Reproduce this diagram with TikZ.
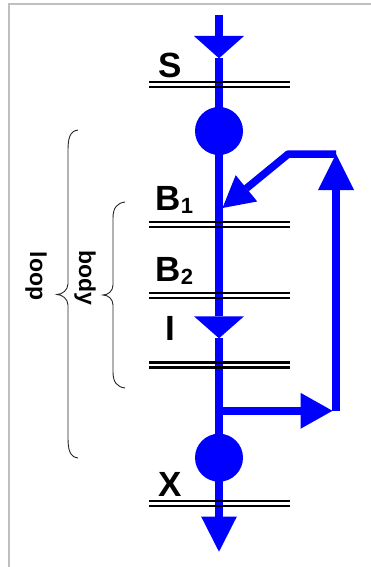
\documentclass[tikz,border=0pt]{standalone}
\usepackage{fontspec}
\setmainfont{Liberation Sans}
\usetikzlibrary{arrows.meta}
\begin{document}
\begin{tikzpicture}[x=1pt,y=-1pt,
  flow/.style={draw=blue, line width=7.5pt},
  rail/.style={draw=black, line width=2.5pt},
  junction/.style={circle, fill=blue, minimum size=48pt, inner sep=0pt},
  lbl/.style={font=\bfseries\fontsize{35}{35}\selectfont, inner sep=0pt, anchor=base west},
  side/.style={font=\bfseries\fontsize{23}{23}\selectfont, inner sep=0pt, rotate=-90},
  brace/.style={draw=black!85, line width=0.9pt},
  frame/.style={draw=black!25, line width=2pt}]
\useasboundingbox (0,0) rectangle (371,567);
\draw[frame] (9.3,567) -- (9.3,3.7) -- (371,3.7);
% named points
\coordinate (top) at (219,15);
\coordinate (m1) at (219,58.3);
\node[junction] (c1) at (219,131) {};
\coordinate (m2) at (219,338.3);
\coordinate (j) at (219,410.8);
\node[junction] (c2) at (219,457.7) {};
\coordinate (bot) at (219,551.7);
\coordinate (rtip) at (332.5,410.8);
\coordinate (rb) at (336,410.8);
\coordinate (rt) at (336,154);
\coordinate (ht) at (288.3,154);
\coordinate (b1in) at (222.5,208);
% main flow
\draw[flow,-{Triangle[width=50pt,length=22.3pt,line width=0pt]}] (top) -- (m1);
\draw[flow] (m1) -- (c1.center);
\draw[flow,-{Triangle[width=50pt,length=22pt,line width=0pt]}] (c1.center) -- (m2);
\draw[flow] (m2) -- (c2.center);
\draw[flow,-{Triangle[width=35.6pt,length=35pt,line width=0pt]}] (c2.center) -- (bot);
% feedback
\draw[flow,-{Triangle[width=36pt,length=32pt,line width=0pt]}] (j) -- (rtip);
\draw[flow,-{Triangle[width=36pt,length=36pt,line width=0pt]}] (rb) -- (rt);
\draw[flow,line join=bevel,-{Triangle[width=34pt,length=31pt,line width=0pt]}] (rt) -- (ht) -- (b1in);
% rails
\foreach \y in {84.7,224.5,295.3,365.2,503.7} {
  \draw[rail] (149,\y-2.5) -- (290,\y-2.5);
  \draw[rail] (149,\y+2.5) -- (290,\y+2.5);
}
% labels
\node[lbl] (S) at (158,78) {S};
\node[lbl] (B1) at (155.5,210.5) {B\raisebox{-3pt}{\fontsize{22}{22}\selectfont 1}};
\node[lbl] (B2) at (155.5,281.5) {B\raisebox{-3pt}{\fontsize{22}{22}\selectfont 2}};
\node[lbl] (I) at (165.5,340) {I};
\node[lbl] (X) at (158.5,496) {X};
\node[side] (loop) at (36,276) {loop};
\node[side] (body) at (85,277.5) {body};
% braces
\draw[brace] (78,130) .. controls (70,131) and (68,138) .. (68,150) -- (68,284)
  .. controls (68,290) and (62,294.5) .. (57,294.5)
  .. controls (62,294.5) and (68,299) .. (68,305) -- (68,438)
  .. controls (68,450) and (70,457) .. (78,458);
\draw[brace] (125,202) .. controls (117,203) and (113,208) .. (113,218) -- (113,285)
  .. controls (113,291) and (108,295) .. (103,295)
  .. controls (108,295) and (113,299) .. (113,305) -- (113,372)
  .. controls (113,382) and (117,387) .. (125,388);
\end{tikzpicture}
\end{document}
